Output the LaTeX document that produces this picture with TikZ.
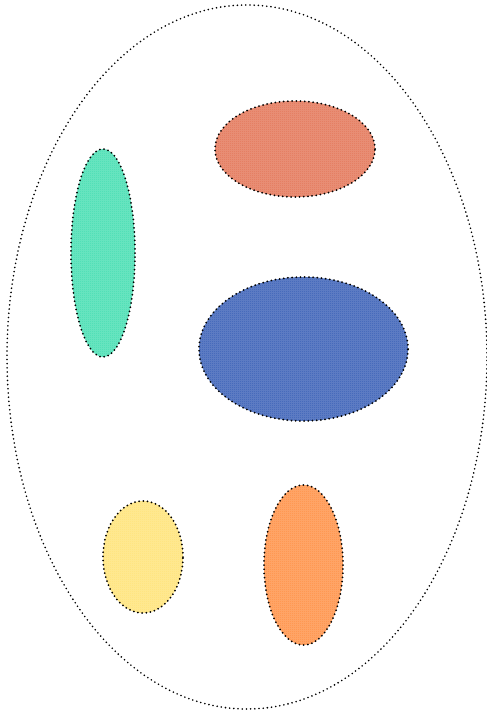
\documentclass[tikz,border=0pt]{standalone}
\usetikzlibrary{shapes.geometric,patterns}

\definecolor{setred}{RGB}{228,118,88}
\definecolor{setteal}{RGB}{70,222,178}
\definecolor{setblue}{RGB}{58,96,182}
\definecolor{setyellow}{RGB}{255,228,120}
\definecolor{setorange}{RGB}{255,145,70}

% fine checkerboard, one point per square
\pgfdeclarepatternformonly{finechecker}{\pgfpointorigin}{\pgfqpoint{2pt}{2pt}}{\pgfqpoint{2pt}{2pt}}{%
  \pgfpathrectangle{\pgfpointorigin}{\pgfqpoint{1pt}{1pt}}%
  \pgfpathrectangle{\pgfqpoint{1pt}{1pt}}{\pgfqpoint{1pt}{1pt}}%
  \pgfusepath{fill}}

\tikzset{
  dotline/.style={line width=2pt, dash pattern=on 0pt off 4.2pt, line cap=round},
  blob/.style={ellipse, draw=black, dotline, inner sep=0pt,
    preaction={fill=#1!80}, pattern=finechecker, pattern color=#1},
}

\begin{document}
\begin{tikzpicture}[x=1pt,y=-1pt]
    \useasboundingbox (0,0) rectangle (487,712);

    % Outer set
    \node[ellipse, draw=black, line width=1.8pt, dash pattern=on 0pt off 4.2pt, line cap=round,
          minimum width=480pt, minimum height=704pt, inner sep=0pt] (universe) at (247,357) {};

    % Inner sets
    \node[blob=setred,    minimum width=160pt, minimum height=96pt]  (red)    at (295,149) {};
    \node[blob=setteal,   minimum width=64pt,  minimum height=208pt] (teal)   at (103,253) {};
    \node[blob=setblue,   minimum width=209pt, minimum height=144pt] (blue)   at (303.5,349) {};
    \node[blob=setyellow, minimum width=80pt,  minimum height=112pt] (yellow) at (143,557) {};
    \node[blob=setorange, minimum width=79pt,  minimum height=160pt] (orange) at (303.5,565) {};
\end{tikzpicture}
\end{document}
